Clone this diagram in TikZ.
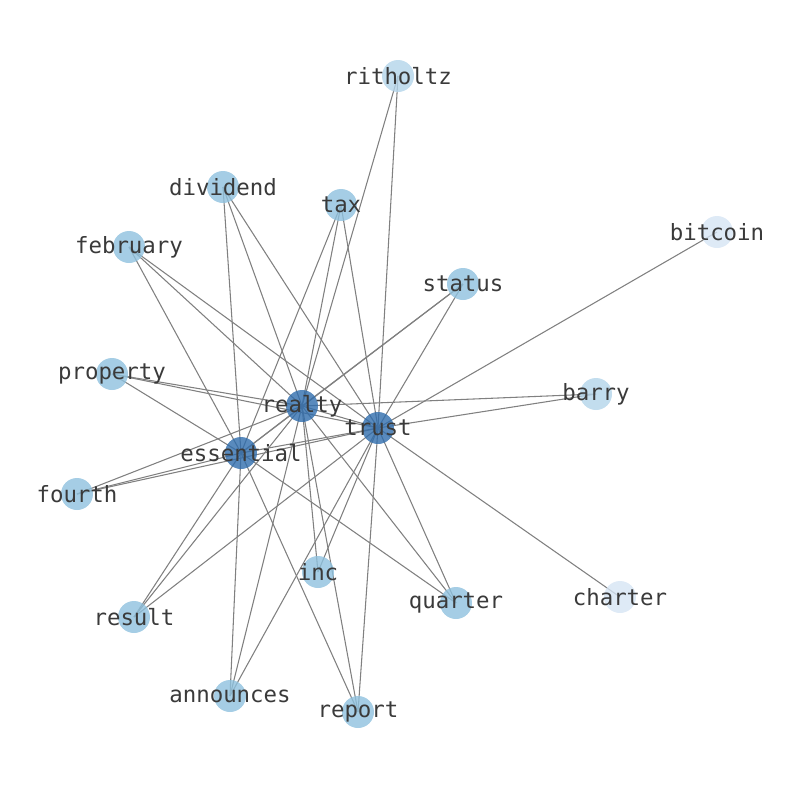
\documentclass[tikz,border=0pt]{standalone}
\usepackage{fontspec}
\setmonofont{DejaVu Sans Mono}
\usepackage{tikz}
\usetikzlibrary{backgrounds}
\definecolor{hubblue}{HTML}{2F6DAD}
\definecolor{midblue}{HTML}{8EC1DE}
\definecolor{paleblue}{HTML}{B3D4EA}
\definecolor{faintblue}{HTML}{D6E5F4}
\definecolor{wordgray}{HTML}{3A3A3A}

\begin{document}
\begin{tikzpicture}[x=0.75pt,y=-0.75pt, word/.style={circle,inner sep=0pt,minimum size=24pt,fill opacity=0.8,draw opacity=0,label={[wordgray,font=\ttfamily\fontsize{16.8}{17}\selectfont,inner sep=0pt]center:#1}}, edge/.style={draw=black!50,line width=0.8pt}]
\useasboundingbox (0,0) rectangle (794,790);
\node[word=ritholtz,fill=paleblue] (ritholtz) at (398,76) {};
\node[word=dividend,fill=midblue] (dividend) at (223,187) {};
\node[word=tax,fill=midblue] (tax) at (341,205) {};
\node[word=bitcoin,fill=faintblue] (bitcoin) at (717,232) {};
\node[word=february,fill=midblue] (february) at (129,247) {};
\node[word=status,fill=midblue] (status) at (463,284) {};
\node[word=property,fill=midblue] (property) at (112,374) {};
\node[word=barry,fill=paleblue] (barry) at (596,394) {};
\node[word=realty,fill=hubblue] (realty) at (302,406) {};
\node[word=trust,fill=hubblue] (trust) at (378,428) {};
\node[word=essential,fill=hubblue] (essential) at (241,453) {};
\node[word=fourth,fill=midblue] (fourth) at (77,494) {};
\node[word=inc,fill=midblue] (inc) at (318,572) {};
\node[word=charter,fill=faintblue] (charter) at (620,597) {};
\node[word=quarter,fill=midblue] (quarter) at (456,603) {};
\node[word=result,fill=midblue] (result) at (134,617) {};
\node[word=announces,fill=midblue] (announces) at (230,696) {};
\node[word=report,fill=midblue] (report) at (358,712) {};
\begin{scope}[on background layer]
\draw[edge] (realty.center)--(trust.center); \draw[edge] (realty.center)--(essential.center); \draw[edge] (essential.center)--(trust.center);
\draw[edge] (ritholtz.center)--(realty.center); \draw[edge] (ritholtz.center)--(trust.center);
\draw[edge] (dividend.center)--(essential.center); \draw[edge] (dividend.center)--(realty.center); \draw[edge] (dividend.center)--(trust.center);
\draw[edge] (tax.center)--(essential.center); \draw[edge] (tax.center)--(realty.center); \draw[edge] (tax.center)--(trust.center);
\draw[edge] (february.center)--(essential.center); \draw[edge] (february.center)--(realty.center); \draw[edge] (february.center)--(trust.center);
\draw[edge] (status.center)--(essential.center); \draw[edge] (status.center)--(realty.center); \draw[edge] (status.center)--(trust.center);
\draw[edge] (property.center)--(essential.center); \draw[edge] (property.center)--(realty.center); \draw[edge] (property.center)--(trust.center);
\draw[edge] (fourth.center)--(essential.center); \draw[edge] (fourth.center)--(realty.center); \draw[edge] (fourth.center)--(trust.center);
\draw[edge] (result.center)--(essential.center); \draw[edge] (result.center)--(realty.center); \draw[edge] (result.center)--(trust.center);
\draw[edge] (announces.center)--(essential.center); \draw[edge] (announces.center)--(realty.center); \draw[edge] (announces.center)--(trust.center);
\draw[edge] (report.center)--(essential.center); \draw[edge] (report.center)--(realty.center); \draw[edge] (report.center)--(trust.center);
\draw[edge] (quarter.center)--(essential.center); \draw[edge] (quarter.center)--(realty.center); \draw[edge] (quarter.center)--(trust.center);
\draw[edge] (inc.center)--(realty.center); \draw[edge] (inc.center)--(trust.center);
\draw[edge] (barry.center)--(realty.center); \draw[edge] (barry.center)--(trust.center);
\draw[edge] (bitcoin.center)--(trust.center); \draw[edge] (charter.center)--(trust.center);
\end{scope}
\end{tikzpicture}
\end{document}
